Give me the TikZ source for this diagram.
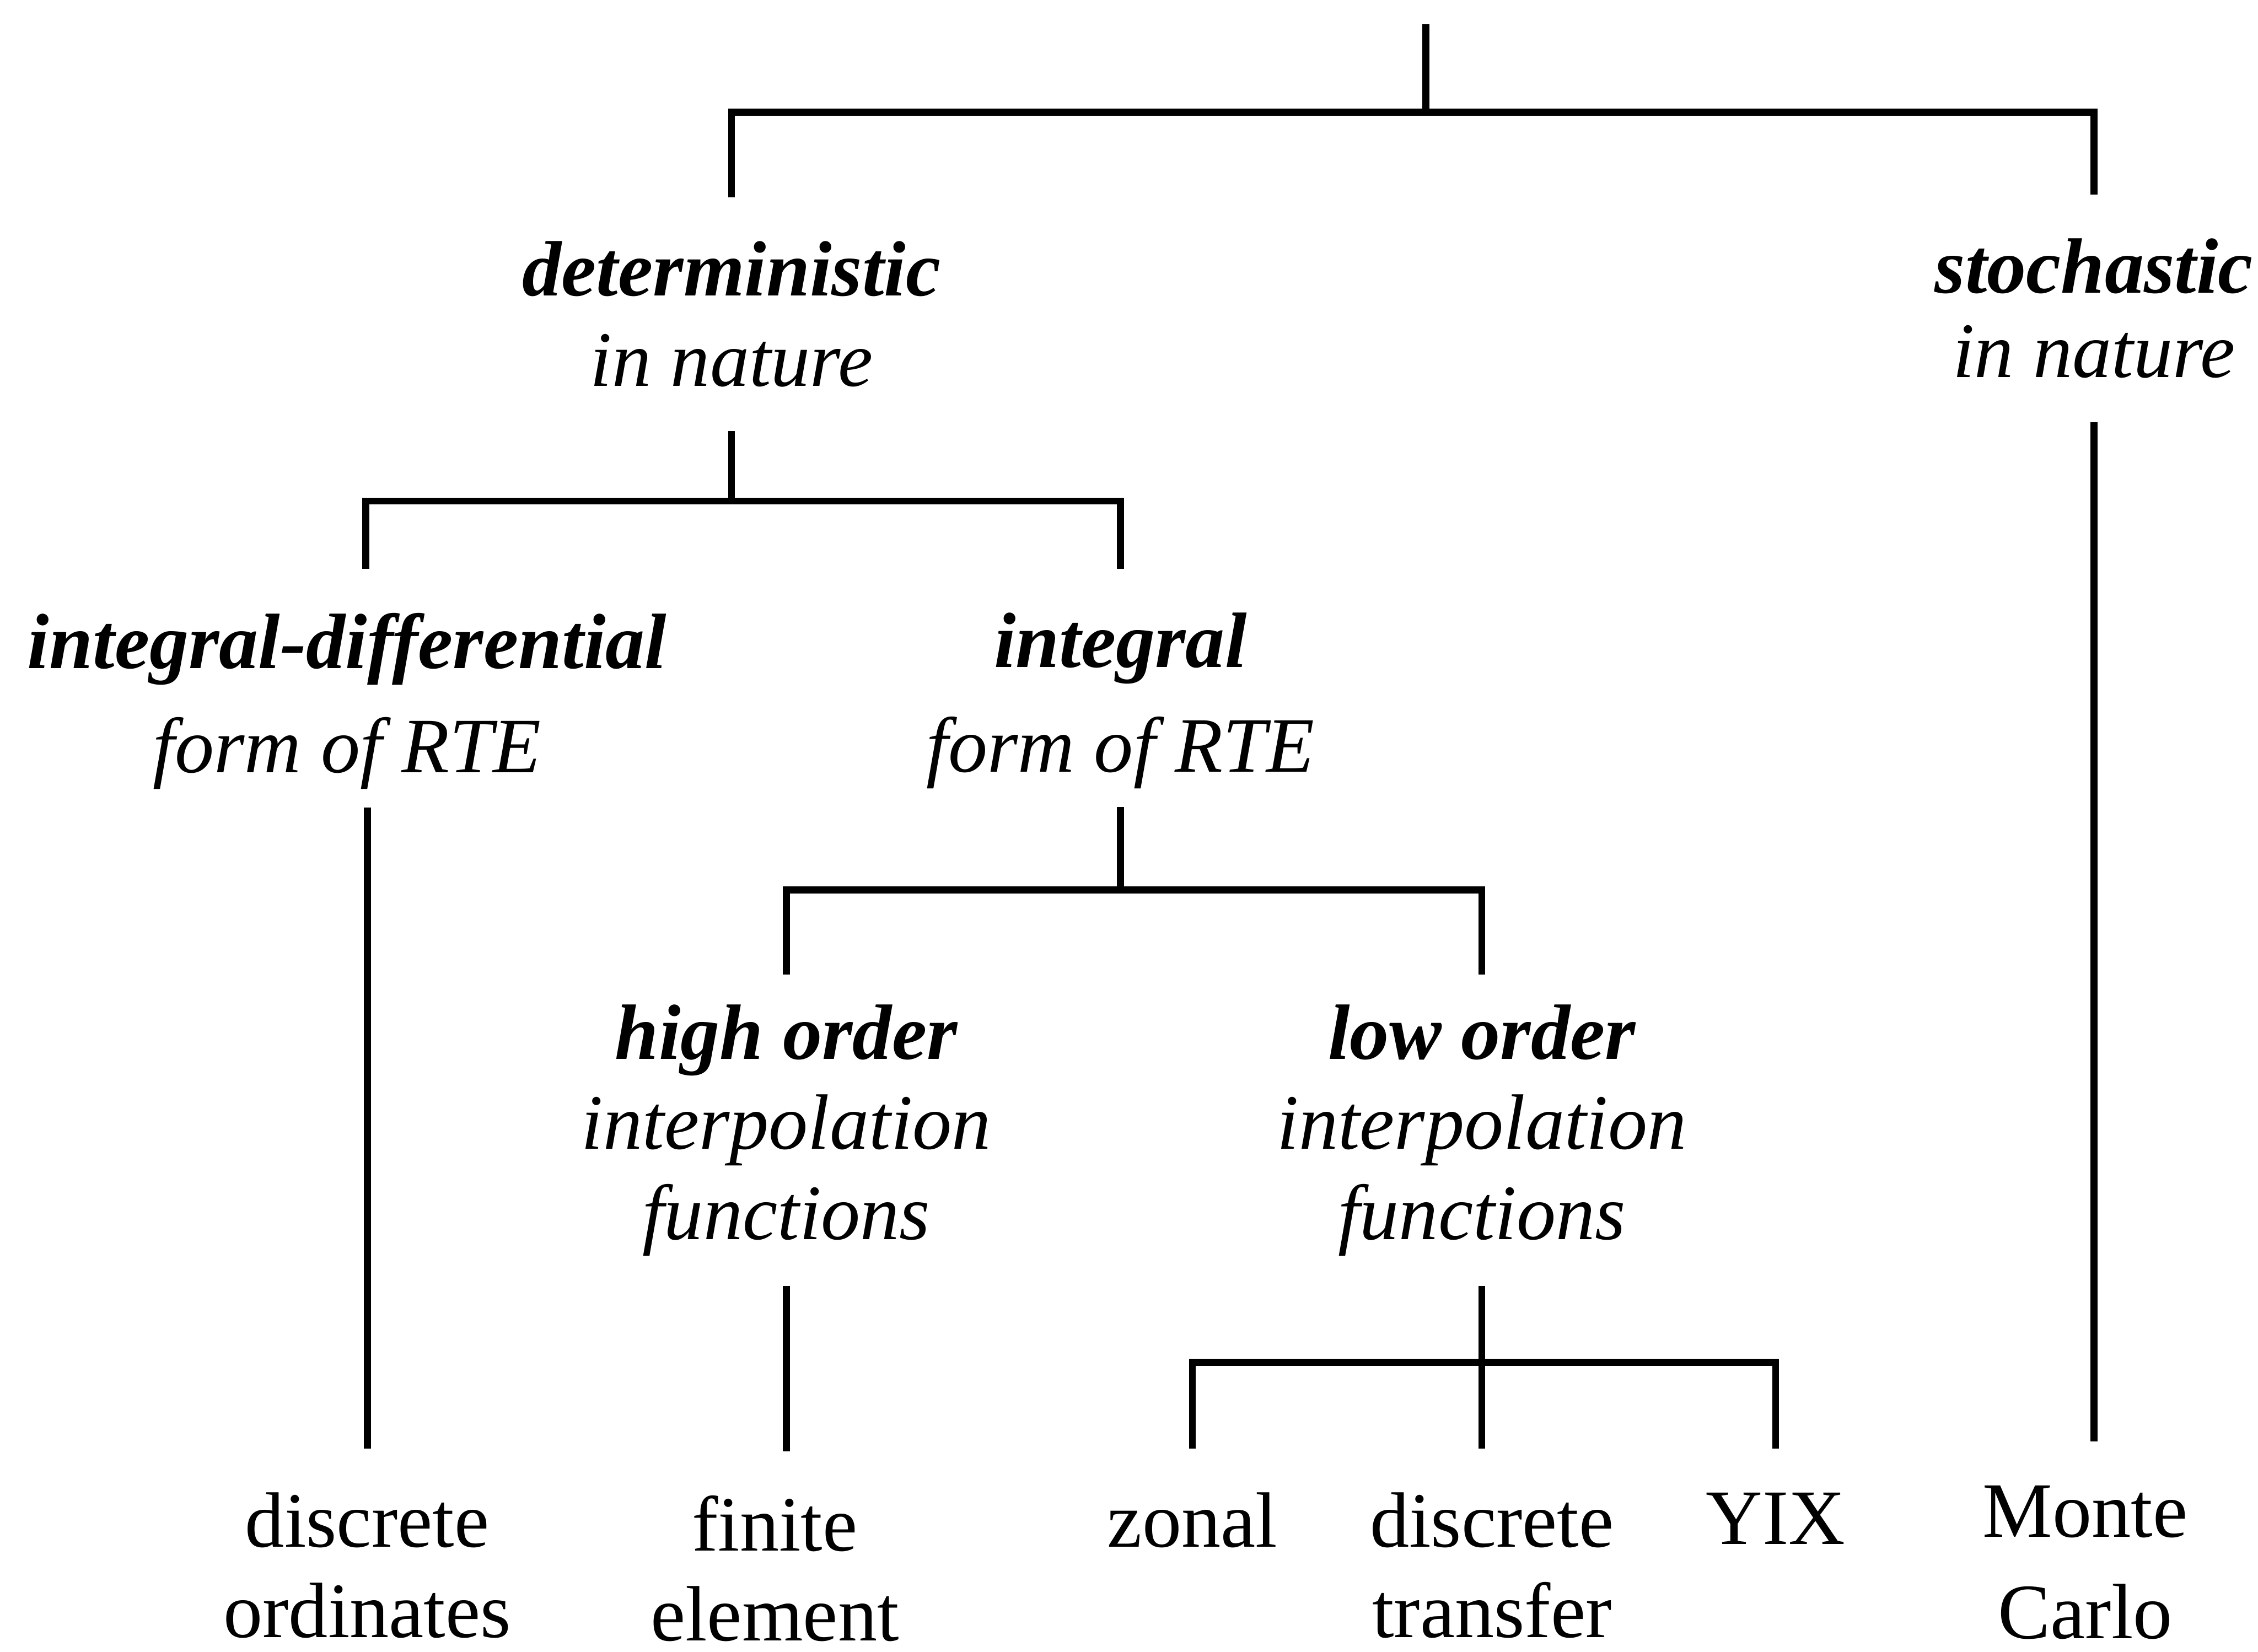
\documentclass[tikz,border=0pt]{standalone}
\usepackage{fontspec}
\setmainfont{Liberation Serif}
\usetikzlibrary{positioning}

\begin{document}
\begin{tikzpicture}[
  cls/.style={font=\fontsize{15.5}{17.8}\selectfont\itshape, align=center, anchor=north,
              inner xsep=0pt, inner ysep=3mm},
  leaf/.style={font=\fontsize{15.5}{17.8}\selectfont, align=center, anchor=north,
               inner xsep=0pt, inner ysep=3mm},
  link/.style={line width=1.4pt}
]
\useasboundingbox (0,0) rectangle (15.68,-11.47);

\coordinate (root) at (9.90,-0.17);
\node[cls] (det) at (5.08,-1.37) {\textbf{deterministic}\\in nature};
\node[cls] (stoch) at (14.54,-1.35) {\textbf{stochastic}\\[-0.4mm]in nature};
\node[cls] (idiff) at (2.41,-3.95) {\textbf{integral-differential}\\[1mm]form of RTE};
\node[cls] (integ) at (7.78,-3.95) {\textbf{integral}\\[1mm]form of RTE};
\node[cls, inner ysep=2mm] (high) at (5.46,-6.77) {\textbf{high order}\\interpolation\\functions};
\node[cls, inner ysep=2mm] (low) at (10.29,-6.77) {\textbf{low order}\\interpolation\\functions};

\node[leaf] (dord) at (2.55,-10.06) {discrete\\ordinates};
\node[leaf] (fem) at (5.38,-10.08) {finite\\element};
\node[leaf] (zonal) at (8.28,-10.06) {zonal};
\node[leaf] (dtm) at (10.36,-10.06) {discrete\\transfer};
\node[leaf] (yix) at (12.33,-10.06) {YIX};
\node[leaf] (mc) at (14.48,-10.01) {Monte\\[0.8mm]Carlo};

\draw[link] (det.north) -- ++(0,0.59) coordinate (bar1) -| (stoch.north);
\draw[link] (root) -- (root |- bar1);
\draw[link] ([xshift=1.3mm]idiff.north) -- ++(0,0.47) coordinate (bar2) -| (integ.north);
\draw[link] (det.south) -- (det.south |- bar2);
\draw[link] (high.north) -- ++(0,0.59) coordinate (bar3) -| (low.north);
\draw[link] ([yshift=1.8mm]integ.south) -- (integ.south |- bar3);
\draw[link] (zonal.north) -- ++(0,0.60) coordinate (bar4) -| (yix.north);
\draw[link] (low.south) -- (low.south |- dtm.north);
\draw[link] ([yshift=1.8mm]idiff.south -| dord.north) -- (dord.north);
\draw[link] (high.south) -- (high.south |- fem.north);
\draw[link] (stoch.south) -- (stoch.south |- mc.north);
\end{tikzpicture}
\end{document}
